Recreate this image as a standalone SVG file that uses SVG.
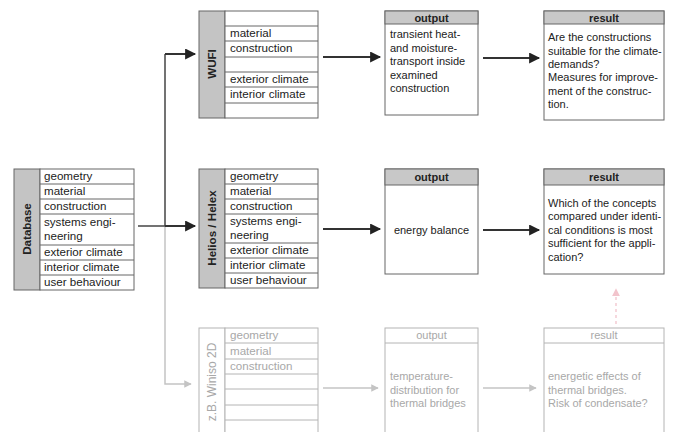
<svg xmlns="http://www.w3.org/2000/svg" width="686" height="432" viewBox="0 0 686 432">
<defs>
<style>
text{font-family:"Liberation Sans",Arial,sans-serif;font-size:11px;fill:#222}
.t text{font-size:11.6px}
.r text{font-size:11px}
.lbl{font-weight:bold;font-size:11.5px;text-anchor:middle}
.hd{font-weight:bold;text-anchor:middle}
.box{fill:#fff;stroke:#666;stroke-width:1}
.side{fill:#c4c4c4;stroke:#666;stroke-width:1}
.head{fill:#c8c8c8;stroke:#666;stroke-width:1}
.row{stroke:#666;stroke-width:1}
.g text{fill:#a8a8a8}
.gbox{fill:#fff;stroke:#b4b4b4;stroke-width:1}
.grow{stroke:#b4b4b4;stroke-width:1}
.arr{stroke:#333;stroke-width:2;fill:none;marker-end:url(#ah)}
.garr{stroke:#c4c4c4;stroke-width:1.5;fill:none;marker-end:url(#gh)}
</style>
<marker id="ah" viewBox="0 0 10 10" refX="9" refY="5" markerWidth="6" markerHeight="5.5" markerUnits="strokeWidth" orient="auto"><path d="M0,0L10,5L0,10z" fill="#222"/></marker>
<marker id="gh" viewBox="0 0 10 10" refX="9" refY="5" markerWidth="6" markerHeight="5" markerUnits="strokeWidth" orient="auto"><path d="M0,0L10,5L0,10z" fill="#c4c4c4"/></marker>
<marker id="ph" viewBox="0 0 10 10" refX="9" refY="5" markerWidth="7" markerHeight="6" markerUnits="strokeWidth" orient="auto"><path d="M0,0L10,5L0,10z" fill="#f2c4cc"/></marker>
</defs>
<rect width="686" height="432" fill="#fff"/>

<g id="database" class="t">
<rect class="side" x="14" y="169" width="26" height="121"/>
<rect class="box" x="40" y="169" width="94" height="121"/>
<path class="row" d="M40,184H134M40,199H134M40,214H134M40,245H134M40,260H134M40,275H134"/>
<text class="lbl" transform="translate(31,229) rotate(-90)">Database</text>
<text x="44" y="180">geometry</text>
<text x="44" y="195">material</text>
<text x="44" y="210">construction</text>
<text x="44" y="226">systems engi-</text>
<text x="44" y="240">neering</text>
<text x="44" y="256">exterior climate</text>
<text x="44" y="271">interior climate</text>
<text x="44" y="286">user behaviour</text>
</g>

<g id="wufi" class="t">
<rect class="side" x="199" y="11" width="26" height="107"/>
<rect class="box" x="225" y="11" width="93" height="107"/>
<path class="row" d="M225,26H318M225,41H318M225,57H318M225,72H318M225,87H318M225,103H318"/>
<text class="lbl" transform="translate(216,64) rotate(-90)">WUFI</text>
<text x="230" y="37">material</text>
<text x="230" y="52">construction</text>
<text x="230" y="83">exterior climate</text>
<text x="230" y="98">interior climate</text>
</g>

<g id="helios" class="t">
<rect class="side" x="199" y="169" width="26" height="119"/>
<rect class="box" x="225" y="169" width="93" height="119"/>
<path class="row" d="M225,184H318M225,199H318M225,214H318M225,243H318M225,258H318M225,273H318"/>
<text class="lbl" transform="translate(216,228) rotate(-90)">Helios / Helex</text>
<text x="230" y="180">geometry</text>
<text x="230" y="195">material</text>
<text x="230" y="210">construction</text>
<text x="230" y="225">systems engi-</text>
<text x="230" y="239">neering</text>
<text x="230" y="254">exterior climate</text>
<text x="230" y="269">interior climate</text>
<text x="230" y="284">user behaviour</text>
</g>

<g id="winiso" class="g t">
<rect class="gbox" x="199" y="328" width="26" height="120"/>
<rect class="gbox" x="225" y="328" width="93" height="120"/>
<path class="grow" d="M225,343H318M225,359H318M225,374H318M225,389H318M225,405H318M225,420H318"/>
<text class="lbl" style="font-weight:normal;font-size:12px" transform="translate(216,382) rotate(-90)">z.B. Winiso 2D</text>
<text x="230" y="339">geometry</text>
<text x="230" y="355">material</text>
<text x="230" y="370">construction</text>
</g>

<g id="output1" class="r">
<rect class="box" x="385" y="11" width="93" height="104"/>
<rect class="head" x="385" y="11" width="93" height="13"/>
<text class="hd" x="431.5" y="21.5">output</text>
<text x="390" y="38">transient heat-</text>
<text x="390" y="52">and moisture-</text>
<text x="390" y="65">transport inside</text>
<text x="390" y="79">examined</text>
<text x="390" y="92">construction</text>
</g>

<g id="result1" class="r">
<rect class="box" x="544" y="11" width="120" height="109"/>
<rect class="head" x="544" y="11" width="120" height="13"/>
<text class="hd" x="604" y="21.5">result</text>
<text x="548" y="41">Are the constructions</text>
<text x="548" y="55">suitable for the climate-</text>
<text x="548" y="68">demands?</text>
<text x="548" y="81">Measures for improve-</text>
<text x="548" y="95">ment of the construc-</text>
<text x="548" y="108">tion.</text>
</g>

<g id="output2" class="r">
<rect class="box" x="385" y="169" width="93" height="105"/>
<rect class="head" x="385" y="169" width="93" height="16"/>
<text class="hd" x="431.5" y="181">output</text>
<text x="431.5" y="234" text-anchor="middle">energy balance</text>
</g>

<g id="result2" class="r">
<rect class="box" x="544" y="169" width="120" height="105"/>
<rect class="head" x="544" y="169" width="120" height="16"/>
<text class="hd" x="604" y="181">result</text>
<text x="548" y="207">Which of the concepts</text>
<text x="548" y="220">compared under identi-</text>
<text x="548" y="234">cal conditions is most</text>
<text x="548" y="247">sufficient for the appli-</text>
<text x="548" y="261">cation?</text>
</g>

<g id="output3" class="g r">
<rect class="gbox" x="385" y="328" width="93" height="120"/>
<path class="grow" d="M385,343H478"/>
<text class="hd" x="431.5" y="339" style="font-weight:normal">output</text>
<text x="390" y="380">temperature-</text>
<text x="390" y="394">distribution for</text>
<text x="390" y="407">thermal bridges</text>
</g>

<g id="result3" class="g r">
<rect class="gbox" x="544" y="328" width="120" height="120"/>
<path class="grow" d="M544,343H664"/>
<text class="hd" x="604" y="339" style="font-weight:normal">result</text>
<text x="548" y="380">energetic effects of</text>
<text x="548" y="394">thermal bridges.</text>
<text x="548" y="407">Risk of condensate?</text>
</g>

<g id="connectors">
<path d="M165,226V384H191" class="garr"/>
<path d="M138,226H165" stroke="#444" stroke-width="1.5" fill="none"/>
<path d="M165,226V54" stroke="#444" stroke-width="1.5" fill="none"/>
<path d="M165,54H195" class="arr"/>
<path d="M165,226H195" class="arr"/>
<path d="M323,57H380" class="arr"/>
<path d="M483,58H539" class="arr"/>
<path d="M323,229H380" class="arr"/>
<path d="M483,230H539" class="arr"/>
<path d="M323,388H378" class="garr"/>
<path d="M483,388H536" class="garr"/>
<path d="M616,324V289" stroke="#f2c4cc" stroke-width="1.3" stroke-dasharray="3,3" fill="none" marker-end="url(#ph)"/>
</g>
</svg>
